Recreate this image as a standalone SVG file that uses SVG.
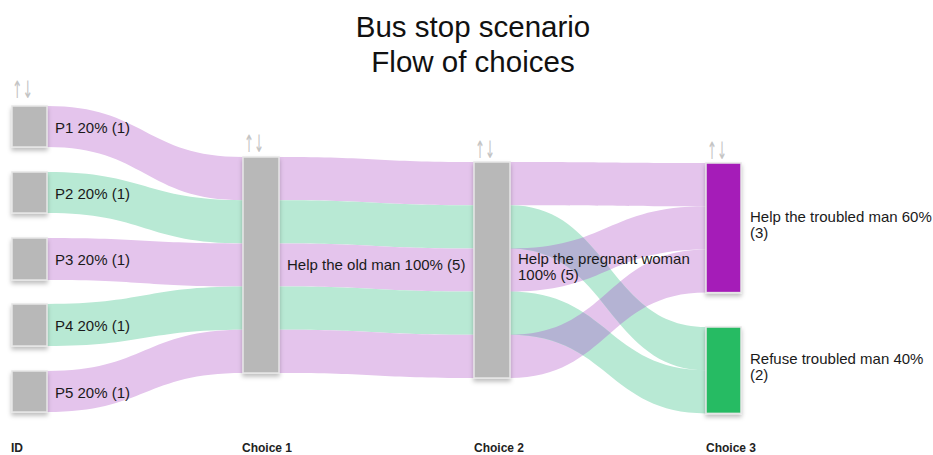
<svg xmlns="http://www.w3.org/2000/svg" width="933" height="455" viewBox="0 0 933 455">
<defs>
<filter id="sh" x="-30%" y="-10%" width="160%" height="130%">
<feDropShadow dx="0" dy="3" stdDeviation="2" flood-color="#000" flood-opacity="0.25"/>
</filter>
<clipPath id="pc">
<path d="M510,248.4 C608,248.4 608,206.2 706,206.2 L706,249.4 C608,249.4 608,291.6 510,291.6 Z"/>
<path d="M510,334.8 C608,334.8 608,249.4 706,249.4 L706,292.6 C608,292.6 608,378 510,378 Z"/>
</clipPath>
</defs>
<style>
text{font-family:"Liberation Sans",Arial,sans-serif;fill:#1a1a1a}
.lbl{font-size:15px}
.ttl{font-size:29.5px;fill:#111;text-anchor:middle}
.ax{font-size:12px;font-weight:bold;fill:#222}
.sort{font-family:"DejaVu Sans",sans-serif;font-size:24px;fill:#c4c4c4}
.n{fill:#b8b8b8;stroke:#e6e6e6;stroke-width:1.5;filter:url(#sh)}
.lp{fill:#e4c4ec}
.lg{fill:#b8e9d4}
.lo{fill:#b4b3d3}
</style>
<rect width="933" height="455" fill="#fff"/>
<g id="title">
<text class="ttl" x="473" y="37">Bus stop scenario</text>
<text class="ttl" x="473" y="72">Flow of choices</text>
</g>
<g id="links">
<path class="lp" d="M47,106 C145,106 145,157 243,157 L243,200.2 C145,200.2 145,147 47,147 Z"/>
<path class="lg" d="M47,172 C145,172 145,200.2 243,200.2 L243,243.4 C145,243.4 145,213 47,213 Z"/>
<path class="lp" d="M47,238 C145,238 145,243.4 243,243.4 L243,286.6 C145,286.6 145,280 47,280 Z"/>
<path class="lg" d="M47,304 C145,304 145,286.6 243,286.6 L243,329.8 C145,329.8 145,346 47,346 Z"/>
<path class="lp" d="M47,371 C145,371 145,329.8 243,329.8 L243,373 C145,373 145,412 47,412 Z"/>
<path class="lp" d="M279,157 C376,157 376,162 474,162 L474,205.2 C376,205.2 376,200.2 279,200.2 Z"/>
<path class="lg" d="M279,200.2 C376,200.2 376,205.2 474,205.2 L474,248.4 C376,248.4 376,243.4 279,243.4 Z"/>
<path class="lp" d="M279,243.4 C376,243.4 376,248.4 474,248.4 L474,291.6 C376,291.6 376,286.6 279,286.6 Z"/>
<path class="lg" d="M279,286.6 C376,286.6 376,291.6 474,291.6 L474,334.8 C376,334.8 376,329.8 279,329.8 Z"/>
<path class="lp" d="M279,329.8 C376,329.8 376,334.8 474,334.8 L474,378 C376,378 376,373 279,373 Z"/>
<path class="lp" d="M510,162 C608,162 608,163 706,163 L706,206.2 C608,206.2 608,205.2 510,205.2 Z"/>
<path class="lp" d="M510,248.4 C608,248.4 608,206.2 706,206.2 L706,249.4 C608,249.4 608,291.6 510,291.6 Z"/>
<path class="lp" d="M510,334.8 C608,334.8 608,249.4 706,249.4 L706,292.6 C608,292.6 608,378 510,378 Z"/>
<path class="lg" d="M510,205.2 C608,205.2 608,327 706,327 L706,370.2 C608,370.2 608,248.4 510,248.4 Z"/>
<path class="lg" d="M510,291.6 C608,291.6 608,370.2 706,370.2 L706,413.4 C608,413.4 608,334.8 510,334.8 Z"/>
<g clip-path="url(#pc)">
<path class="lo" d="M510,205.2 C608,205.2 608,327 706,327 L706,370.2 C608,370.2 608,248.4 510,248.4 Z"/>
<path class="lo" d="M510,291.6 C608,291.6 608,370.2 706,370.2 L706,413.4 C608,413.4 608,334.8 510,334.8 Z"/>
</g>
</g>
<g id="sort-icons">
<text class="sort" x="12" y="98" textLength="21" lengthAdjust="spacingAndGlyphs">↑↓</text>
<text class="sort" x="244" y="152" textLength="20" lengthAdjust="spacingAndGlyphs">↑↓</text>
<text class="sort" x="475" y="158" textLength="20" lengthAdjust="spacingAndGlyphs">↑↓</text>
<text class="sort" x="707" y="159" textLength="20" lengthAdjust="spacingAndGlyphs">↑↓</text>
</g>
<g id="P1"><rect class="n" x="12" y="106" width="35" height="41"/><text class="lbl" x="55" y="133">P1 20% (1)</text></g>
<g id="P2"><rect class="n" x="12" y="172" width="35" height="41"/><text class="lbl" x="55" y="199">P2 20% (1)</text></g>
<g id="P3"><rect class="n" x="12" y="238" width="35" height="42"/><text class="lbl" x="55" y="265">P3 20% (1)</text></g>
<g id="P4"><rect class="n" x="12" y="304" width="35" height="42"/><text class="lbl" x="55" y="331">P4 20% (1)</text></g>
<g id="P5"><rect class="n" x="12" y="371" width="35" height="41"/><text class="lbl" x="55" y="398">P5 20% (1)</text></g>
<g id="choice1"><rect class="n" x="243" y="157" width="36" height="216"/><text class="lbl" x="287" y="270">Help the old man 100% (5)</text></g>
<g id="choice2"><rect class="n" x="474" y="162" width="36" height="216"/><text class="lbl" x="518" y="264">Help the pregnant woman</text><text class="lbl" x="518" y="280">100% (5)</text></g>
<g id="help"><rect class="n" x="706" y="163" width="35" height="129.6" style="fill:#a51cb8"/><text class="lbl" x="750" y="222">Help the troubled man 60%</text><text class="lbl" x="750" y="238">(3)</text></g>
<g id="refuse"><rect class="n" x="706" y="327" width="35" height="86.4" style="fill:#27bb63"/><text class="lbl" x="750" y="364">Refuse troubled man 40%</text><text class="lbl" x="750" y="380">(2)</text></g>
<g id="axis">
<text class="ax" x="11" y="452">ID</text>
<text class="ax" x="242" y="452">Choice 1</text>
<text class="ax" x="474" y="452">Choice 2</text>
<text class="ax" x="706" y="452">Choice 3</text>
</g>
</svg>
